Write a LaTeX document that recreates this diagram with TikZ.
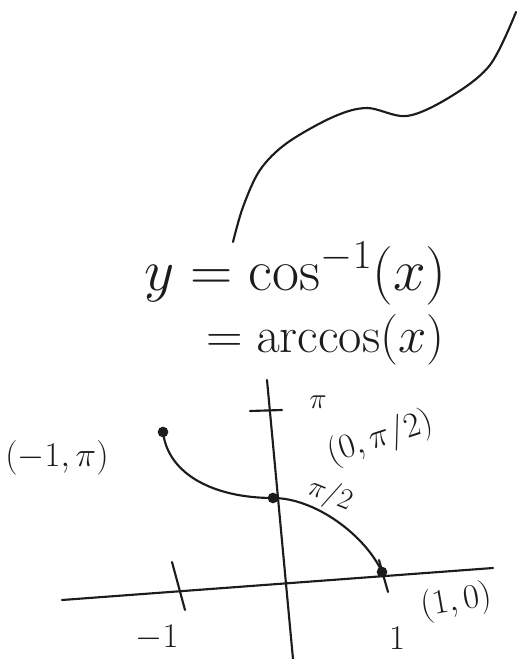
\documentclass[tikz,border=0pt]{standalone}
\usepackage{fix-cm}
\usepackage{tikz}
\usetikzlibrary{positioning,calc}
\definecolor{pencil}{HTML}{1C1C1C}

\begin{document}
\begin{tikzpicture}[x=0.75pt,y=-0.75pt,line width=1.6pt,line cap=round,
  dot/.style={circle,fill=pencil,inner sep=0pt,minimum size=8pt},
  note/.style={font=\fontsize{22}{26}\selectfont,color=pencil,inner sep=0pt}]
  \useasboundingbox (0,0) rectangle (518,659);

  % free stroke at the top
  \draw[pencil] plot[smooth,tension=0.55] coordinates {(233,242) (243,207) (260,170)
    (287,143) (333,117) (367,108) (407,116) (450,97) (490,65) (516,12)};

  % the definition
  \node[anchor=base west,font=\fontsize{44}{50}\selectfont,inner sep=0pt,color=pencil]
    (defn) at (143,290) {$y=\cos^{-1}(x)$};
  \node[anchor=base west,font=\fontsize{38}{44}\selectfont,inner sep=0pt,color=pencil]
    (alias) at (205,352) {$=\arccos(x)$};

  % axes and ticks
  \coordinate (xl) at (62,600);  \coordinate (xr) at (493,568);
  \coordinate (yt) at (267,380); \coordinate (yb) at (293,659);
  \draw[pencil] (xl) -- (xr);
  \draw[pencil] (yt) -- (yb);
  \coordinate (pia) at (250,411); \coordinate (pib) at (282,410);
  \draw[pencil] (pia) -- (pib);
  \coordinate (ma) at (172,562); \coordinate (mb) at (185,610);
  \draw[pencil] (ma) -- (mb);
  \coordinate (pa) at (379,560); \coordinate (pb) at (388,592);
  \draw[pencil] (pa) -- (pb);

  % the graph of arccos
  \node[dot] (lft) at (163,432) {};
  \node[dot] (mid) at (273,498) {};
  \node[dot] (rgt) at (382,572) {};
  \draw[pencil] (lft.center) .. controls (168,475) and (215,498) .. (mid.center)
    .. controls (315,498) and (365,535) .. (rgt.center);

  % labels
  \node[note,font=\fontsize{26}{30}\selectfont] (plft) at (57,458) {$(-1,\pi)$};
  \node[note] (ppi) at (318,402) {$\pi$};
  \node[note,font=\fontsize{26}{30}\selectfont,rotate=18] (pmid) at (380,438) {$(0,\pi/2)$};
  \node[note,rotate=-22] (phalf) at (330,495) {$\pi/2$};
  \node[note,font=\fontsize{26}{30}\selectfont,rotate=10] (prgt) at (456,602) {$(1,0)$};
  \node[note,font=\fontsize{26}{30}\selectfont] (mone) at (157,638) {$-1$};
  \node[note,font=\fontsize{26}{30}\selectfont] (one) at (397,638) {$1$};
\end{tikzpicture}
\end{document}
